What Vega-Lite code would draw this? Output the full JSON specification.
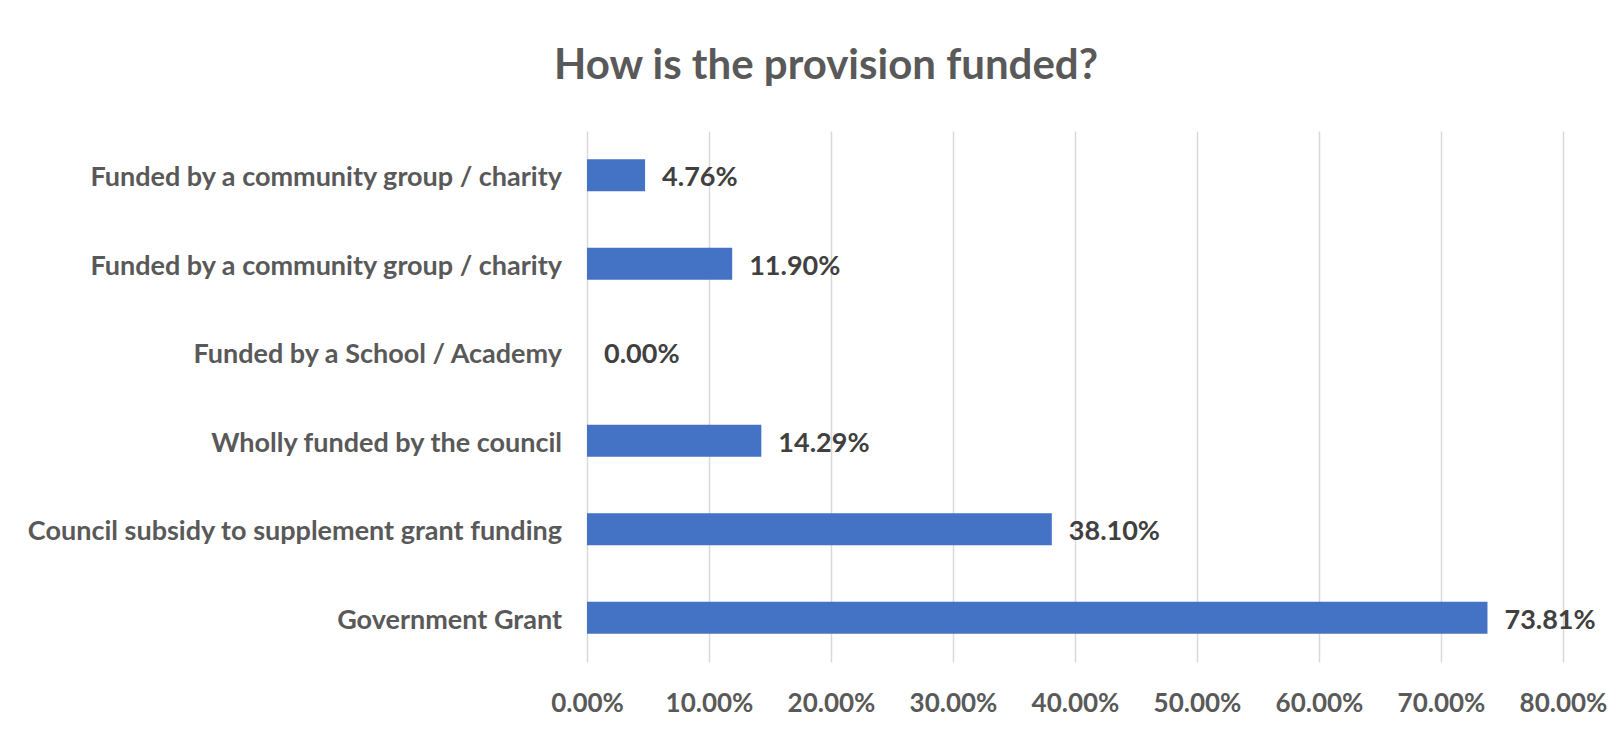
{
  "$schema": "https://vega.github.io/schema/vega-lite/v6.json",
  "width": 976,
  "height": 531,
  "autosize": {"type": "none"},
  "padding": {"left": 587, "top": 131, "right": 59, "bottom": 75},
  "background": "white",
  "title": {
    "text": "How is the provision funded?",
    "font": "Lato",
    "fontSize": 42,
    "fontWeight": "bold",
    "color": "#595959",
    "anchor": "middle",
    "frame": "group",
    "dx": -249,
    "offset": 10,
    "baseline": "alphabetic"
  },
  "data": {
    "values": [
      {"order": 1, "category": "Funded by a community group / charity", "share": 0.0476},
      {"order": 2, "category": "Funded by a community group / charity", "share": 0.119},
      {"order": 3, "category": "Funded by a School / Academy", "share": 0.0},
      {"order": 4, "category": "Wholly funded by the council", "share": 0.1429},
      {"order": 5, "category": "Council subsidy to supplement grant funding", "share": 0.381},
      {"order": 6, "category": "Government Grant", "share": 0.7381}
    ]
  },
  "encoding": {
    "y": {
      "field": "order",
      "type": "ordinal",
      "sort": "ascending",
      "axis": null,
      "scale": {"paddingInner": 0.64, "paddingOuter": 0.32}
    }
  },
  "layer": [
    {
      "mark": {"type": "bar", "color": "#4472C4"},
      "encoding": {
        "x": {
          "field": "share",
          "type": "quantitative",
          "scale": {"domain": [0, 0.8], "nice": false},
          "axis": {
            "title": null,
            "format": ".2%",
            "values": [0, 0.1, 0.2, 0.3, 0.4, 0.5, 0.6, 0.7, 0.8],
            "grid": true,
            "gridColor": "#d9d9d9",
            "gridWidth": 1.5,
            "domain": false,
            "ticks": false,
            "labelFont": "Lato",
            "labelFontSize": 26,
            "labelFontWeight": "bold",
            "labelColor": "#595959",
            "labelPadding": 41,
            "labelBaseline": "middle",
            "labelFlush": false,
            "labelOverlap": false
          }
        }
      }
    },
    {
      "mark": {
        "type": "text",
        "align": "left",
        "baseline": "middle",
        "dx": 17,
        "dy": 3,
        "font": "Lato",
        "fontSize": 27,
        "fontWeight": "bold",
        "color": "#404040"
      },
      "encoding": {
        "x": {"field": "share", "type": "quantitative"},
        "text": {"field": "share", "type": "quantitative", "format": ".2%"}
      }
    },
    {
      "mark": {
        "type": "text",
        "align": "right",
        "baseline": "middle",
        "dx": -25,
        "dy": 3,
        "font": "Lato",
        "fontSize": 27,
        "fontWeight": "bold",
        "color": "#595959"
      },
      "encoding": {
        "x": {"datum": 0, "type": "quantitative"},
        "text": {"field": "category", "type": "nominal"}
      }
    }
  ],
  "config": {"view": {"stroke": null}}
}
